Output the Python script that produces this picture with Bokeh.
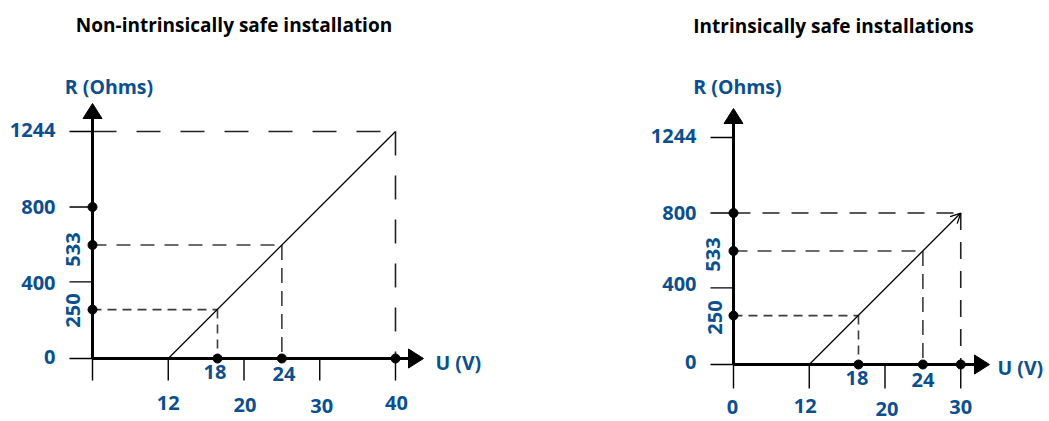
import math
from bokeh.plotting import figure
from bokeh.layouts import row
from bokeh.models import Range1d, Arrow, OpenHead, ColumnDataSource
from bokeh.core.properties import value
from bokeh.embed import file_html
from bokeh.resources import INLINE

# ---------------- data ----------------
TITLES = ["Non-intrinsically safe installation", "Intrinsically safe installations"]
Y_NAME = "R (Ohms)"
X_NAME = "U (V)"

# R axis: labels and their schematic positions along the drawn axis
R_TICK_LABELS = ["0", "400", "800", "1244"]
R_TICK_POS = [0, 420, 830, 1244]
R_KNEE_LABELS = ["250", "533"]
R_KNEE_POS = [268, 622]

# U axis: labelled ticks (schematic positions)
L_U_TICK_LABELS = ["", "12", "20", "30", "40"]
L_U_TICK_POS = [0, 10, 20, 30, 40]
R_U_TICK_LABELS = ["0", "12", "20", "30"]
R_U_TICK_POS = [0, 10, 20, 30]

# knee points on the U axis
U_KNEE_LABELS = ["18", "24"]
U_KNEE_POS = [16.5, 25]

# load lines (start at U = 12 -> position 10, R = 0)
L_LINE_U = [10, 40]
L_LINE_R = [0, 1244]
R_LINE_U = [10, 30]
R_LINE_R = [0, 830]

# ---------------- style ----------------
PXU = 7.575    # px per U-position unit
PXR = 0.1825   # px per R-position unit
BLUE = "#0b4f8f"
FONT = "Open Sans"
TOP = 0
H = 420


def panel(width, fig_left, origin, title, title_cx, title_base, yname_cx,
          xname_x, xname_base, u_ticks, u_tick_labels, line_u, line_r,
          y_axis_px, x_axis_px, xtick_px, ytick_dy, knee_dxdy, uknee_dxdy,
          utick_dxdy, draw_1244_dashes, arrow_end):
    ox, oy = origin
    x0 = (fig_left - ox) / PXU
    x1 = (fig_left + width - ox) / PXU
    y0 = (oy - (TOP + H)) / PXR
    y1 = (oy - TOP) / PXR
    p = figure(width=width, height=H, x_range=Range1d(x0, x1), y_range=Range1d(y0, y1),
               output_backend="svg", toolbar_location=None, min_border=0,
               x_axis_location=None, y_axis_location=None)
    p.grid.visible = False
    p.outline_line_color = None

    def du(px):
        return px / PXU

    def dr(px):
        return px / PXR

    def X(xp):
        return (xp - ox) / PXU

    def Y(yp):
        return (oy - yp) / PXR

    # texts: titles and axis names
    p.text([X(title_cx)], [Y(title_base)], text=[title], text_font=value(FONT),
           text_font_style="bold", text_font_size="19px", text_color="black",
           text_align="center", text_baseline="alphabetic")
    p.text([X(yname_cx)], [Y(86)], text=[Y_NAME], text_font=value(FONT),
           text_font_style="bold", text_font_size="19.5px", text_color=BLUE,
           text_align="center", text_baseline="alphabetic")
    p.text([X(xname_x)], [Y(xname_base)], text=[X_NAME], text_font=value(FONT),
           text_font_style="bold", text_font_size="19.5px", text_color=BLUE,
           text_align="left", text_baseline="alphabetic")

    # dashed guide lines
    r_max = line_r[-1]
    u_max = line_u[-1]
    long_dash = "24 20" if draw_1244_dashes else "17 12"
    p.line([0, u_max], [r_max, r_max], line_dash=long_dash, line_width=1.6, color="#222222")
    p.line([u_max, u_max], [r_max, 0], line_dash=long_dash, line_width=1.6, color="#222222")
    p.line([0, U_KNEE_POS[1]], [R_KNEE_POS[1]] * 2, line_dash="14 10", line_width=1.6, color="#3c3c3c")
    p.line([U_KNEE_POS[1]] * 2, [R_KNEE_POS[1], 0], line_dash="15 8", line_width=1.6, color="#3c3c3c")
    p.line([0, U_KNEE_POS[0]], [R_KNEE_POS[0]] * 2, line_dash="9 6", line_width=1.6, color="#3c3c3c")
    p.line([U_KNEE_POS[0]] * 2, [R_KNEE_POS[0], 0], line_dash="9 6", line_width=1.6, color="#3c3c3c")

    # load line
    if arrow_end:
        p.add_layout(Arrow(x_start=line_u[0], y_start=line_r[0], x_end=line_u[1], y_end=line_r[1],
                           line_width=1.3, line_color="black",
                           end=OpenHead(size=10, line_width=1.3, line_color="black")))
    else:
        p.line(line_u, line_r, line_width=1.3, color="black")

    # ticks
    p.segment(x0=[-du(23)] * len(R_TICK_POS), y0=R_TICK_POS, x1=[0] * len(R_TICK_POS), y1=R_TICK_POS,
              line_width=1.4, color="black")
    p.segment(x0=u_ticks, y0=[0] * len(u_ticks), x1=u_ticks, y1=[-dr(xtick_px)] * len(u_ticks),
              line_width=1.4, color="black")

    # axes with arrow heads
    r_tip = dr(y_axis_px)
    u_tip = du(x_axis_px)
    p.line([0, 0], [0, r_tip - dr(14)], line_width=3, color="black")
    p.line([0, u_tip - du(14)], [0, 0], line_width=3, color="black")
    p.patch([-du(9.5), 0, du(9.5)], [r_tip - dr(15), r_tip, r_tip - dr(15)], color="black", line_width=1)
    p.patch([u_tip - du(15), u_tip, u_tip - du(15)], [-dr(9.5), 0, dr(9.5)], color="black", line_width=1)

    # dots
    p.scatter([0, 0, 0], R_KNEE_POS + [830], size=9, color="black")
    p.scatter(U_KNEE_POS + [u_max], [0, 0, 0], size=9, color="black")

    # R tick labels
    src = ColumnDataSource(dict(x=[0] * 4, y=R_TICK_POS, t=R_TICK_LABELS, dy=ytick_dy))
    p.text("x", "y", text="t", source=src, x_offset=-37, y_offset="dy", text_font=value(FONT),
           text_font_style="bold", text_font_size="20px", text_color=BLUE,
           text_align="right", text_baseline="middle")
    src = ColumnDataSource(dict(x=[0, 0], y=R_KNEE_POS, t=R_KNEE_LABELS,
                                dx=[d[0] for d in knee_dxdy], dy=[d[1] for d in knee_dxdy]))
    p.text("x", "y", text="t", source=src, x_offset="dx", y_offset="dy", angle=math.pi / 2,
           text_font=value(FONT), text_font_style="bold", text_font_size="20px", text_color=BLUE,
           text_align="center", text_baseline="middle")
    # U labels
    src = ColumnDataSource(dict(x=U_KNEE_POS, y=[0, 0], t=U_KNEE_LABELS,
                                dx=[d[0] for d in uknee_dxdy], dy=[d[1] for d in uknee_dxdy]))
    p.text("x", "y", text="t", source=src, x_offset="dx", y_offset="dy", text_font=value(FONT),
           text_font_style="bold", text_font_size="20px", text_color=BLUE,
           text_align="center", text_baseline="middle")
    src = ColumnDataSource(dict(x=u_ticks, y=[0] * len(u_ticks), t=u_tick_labels,
                                dx=[d[0] for d in utick_dxdy], dy=[d[1] for d in utick_dxdy]))
    p.text("x", "y", text="t", source=src, x_offset="dx", y_offset="dy", text_font=value(FONT),
           text_font_style="bold", text_font_size="20px", text_color=BLUE,
           text_align="center", text_baseline="middle")
    return p


left = panel(528, 0, (92, 358), TITLES[0], 233.5, 24, 108.5, 435, 362,
             L_U_TICK_POS, L_U_TICK_LABELS, L_LINE_U, L_LINE_R,
             255, 331, 22, [-2, 1, 0, -1.5], [(-20, 1), (-20, 4.5)],
             [(-2.5, 13.5), (2, 15)],
             [(0, 45), (0, 44), (1, 46), (2, 47), (1, 44)], True, False)
right = panel(519, 528, (733, 364), TITLES[1], 833, 25, 737, 997, 367,
              R_U_TICK_POS, R_U_TICK_LABELS, R_LINE_U, R_LINE_R,
              256, 256, 24, [-3, -4, 0, -1.5], [(-19, 2), (-20.5, 3.5)],
              [(-1.5, 13), (0, 15)],
              [(-1, 42), (-4, 41), (2, 44), (0, 42)], False, True)

layout = row(left, right, spacing=0)
open("out.html", "w").write(file_html(layout, INLINE))
